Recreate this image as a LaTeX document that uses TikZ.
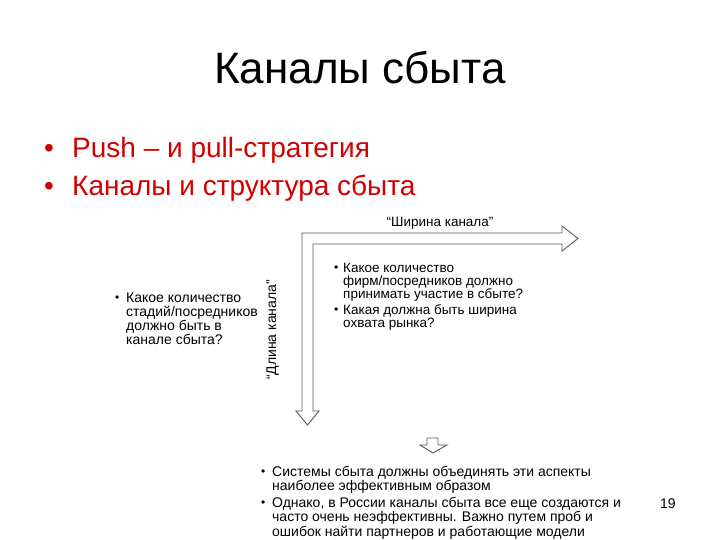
\documentclass[tikz,border=0pt]{standalone}
\usepackage{fontspec}
\setmainfont{Liberation Sans}
\usetikzlibrary{positioning}
\definecolor{slidered}{RGB}{210,0,0}
\definecolor{arrowgray}{RGB}{90,90,90}

\begin{document}
\begin{tikzpicture}[x=1pt,y=-1pt,
    every node/.style={inner sep=0pt},
    ttl/.style={font=\fontsize{44}{48}\selectfont,anchor=base},
    redtxt/.style={font=\fontsize{28}{32}\selectfont,text=slidered,anchor=base west},
    small/.style={font=\fontsize{13.5}{13}\selectfont,align=left,anchor=base west},
    smallleft/.style={font=\fontsize{14}{14}\selectfont,align=left,anchor=base west},
    bottomtxt/.style={font=\fontsize{14}{14.5}\selectfont,align=left,anchor=base west},
    dotmark/.style={font=\fontsize{12}{12}\selectfont,anchor=base west},
    blockarrow/.style={draw=arrowgray,line width=0.9pt,line join=miter}]
  \useasboundingbox (0,0) rectangle (720,540);
  % title and red points
  \node[ttl] (title) at (360,84) {Каналы сбыта};
  \node[redtxt] (dot1) at (44,158) {•};
  \node[redtxt] (push) at (72,158) {Push – и pull-стратегия};
  \node[redtxt] (dot2) at (44,196) {•};
  \node[redtxt] (struct) at (72,196) {Каналы и структура сбыта};
  % the two arrows
  \draw[blockarrow] (302,233) -- (562,233) -- (562,226) -- (578,238.5)
        -- (562,251) -- (562,244) -- (313,244) -- (313,411) -- (319,411)
        -- (307.5,425) -- (296,411) -- (302,411) -- cycle;
  \draw[blockarrow] (427,438) -- (438,438) -- (438,445) -- (447,445)
        -- (433,453) -- (420,445) -- (427,445) -- cycle;
  \node[small,anchor=base] (width) at (440,226) {“Ширина канала”};
  \node[smallleft,anchor=base,rotate=90] (length) at (276,330) {“Длина канала”};
  % right block (base = last line)
  \node[dotmark] (rdot1) at (334,271.5) {•};
  \node[small] (rq1) at (343,298) {Какое количество\\фирм/посредников должно\\принимать участие в сбыте?};
  \node[dotmark] (rdot2) at (334,313.5) {•};
  \node[small] (rq2) at (343,327) {Какая должна быть ширина\\охвата рынка?};
  % left block
  \node[dotmark] (ldot) at (115,301.5) {•};
  \node[smallleft] (lq) at (126,344) {Какое количество\\стадий/посредников\\должно быть в\\канале сбыта?};
  % bottom block
  \node[dotmark] (bdot1) at (261,475.5) {•};
  \node[bottomtxt] (bq1) at (272,490.5) {Системы сбыта должны объединять эти аспекты\\наиболее эффективным образом};
  \node[dotmark] (bdot2) at (261,506.5) {•};
  \node[bottomtxt] (bq2) at (272,536) {Однако, в России каналы сбыта все еще создаются и\\часто очень неэффективны. Важно путем проб и\\ошибок найти партнеров и работающие модели};
  \node[bottomtxt] (page) at (660,508) {19};
\end{tikzpicture}
\end{document}
